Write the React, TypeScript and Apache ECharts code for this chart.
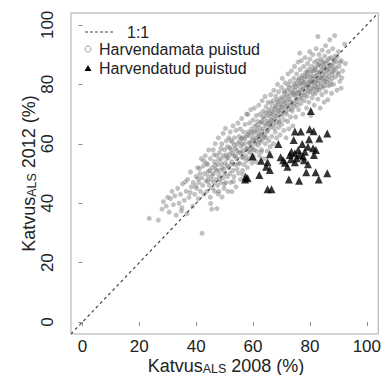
import React, { useEffect, useRef } from "react";
import * as echarts from "echarts";

const FONT = '"Liberation Sans", Arial, Helvetica, sans-serif';

const tickValues = [0, 20, 40, 60, 80, 100];
const legendLabels = ["1:1", "Harvendamata puistud", "Harvendatud puistud"];
const xTitle = ["Katvus", "ALS", " 2008 (%)"];
const yTitle = ["Katvus", "ALS", " 2012 (%)"];
const lineOneToOne = [[-4, -4], [104, 104]];

// Harvendamata puistud (unthinned stands)
const unthinned: number[][] = [
  [23.5,34.9],[26.7,34.3],[28,38],[28.5,40.5],[29.5,39],[30,42],[30.5,37],[31,41.5],[31.5,44],[32,39.5],[32.5,42.5],[33,36],[33.5,45],[34,40],[34.5,43],[35,38.5],[35.2,46.5],[35.8,41],[36.5,44],[36.8,36.5],[37,48],[37.5,42],[38,50.5],[38.3,45.5],[38.8,39],[39,47],
  [39.5,43],[40,49],[40.2,45],[40.5,52],[40.8,41.5],[41,47],[41.3,50],[41.5,44],[41.8,55],[42,48.5],[42.1,29.9],[42.3,46],[42.5,52.5],[42.8,43],[43,50],[43.2,56],[43.5,47.5],[43.8,44],[44,53],[44.2,49],[44.4,57.9],[44.6,46],[44.8,51],[45,42],[45,55],[45.3,48],[45.5,38],[45.6,52],[45.8,45],[46,58],
  [46,50],[46.2,47],[46.4,54],[46.5,44],[46.7,60],[46.9,51.5],[47,48],[47.3,38.2],[47.3,56],[47.5,46],[47.6,53],[47.8,62],[48,49.5],[48,44],[48.2,57],[48.4,51],[48.6,47],[48.8,55],[49,60],[49.1,42.1],[49.2,52],[49.4,48.5],[49.5,63.5],[49.6,56],[49.8,45],[50,50],[50,58],[50.2,53.5],[50.3,65.2],[50.4,47],[50.6,61],[50.8,55],[51,49],[51,59],[51.2,44],
  [51.4,52],[51.5,62],[51.7,56.5],[51.9,50],[52,64],[52.1,47],[52.3,58],[52.5,54],[52.6,43.9],[52.7,60.5],[52.9,51],[53,66],[53.2,56],[53.3,49],[53.5,62],[53.6,53],[53.8,58.5],[54,45.5],[54,64.5],[54.2,55],[54.4,51.5],[54.5,60],[54.7,67],[54.9,50.1],[55,57],[55.1,62.5],[55.3,53.5],[55.5,65],[55.6,48],[55.8,59],[56,55.5],[56,68.5],[56.2,62],[56.3,51],[56.5,57.5],[56.6,64],[56.8,53],[57,60],[57.2,47.8],[57.2,66.5],[57.4,56],[57.5,62.5],[57.7,70],[57.9,58.5],[58,52],
  [58.2,69.9],[58.3,64],[58.5,55],[58.6,60.5],[58.8,67],[59,57],[59,62.5],[59.2,71.5],[59.4,59],[59.5,65],[59.6,53.5],[59.8,61],[60,68],[60,56],[60.2,63.5],[60.4,58],[60.5,72],[60.6,66],[60.8,60],[61,62],[61,54],[61.2,69.5],[61.3,57.5],[61.5,64.5],[61.6,67.5],[61.8,59.5],[62,73],[62,62.5],[62.2,56],[62.3,65.5],[62.5,70],[62.6,60.5],[62.8,63],[63,67.5],[63,58],[63.2,74.5],[63.3,61.5],[63.5,65],[63.6,71],[63.8,55],[64,63],[64,68.5],[64.2,75.9],[64.3,60],[64.5,66],[64.6,72.5],[64.8,62],[65,69.5],[65,57.5],[65.2,64.5],[65.3,74],[65.5,67],[65.6,61],[65.8,70.5],[66,59],
  [66,65.5],[66.2,76.5],[66.3,68],[66.5,72],[66.6,62.5],[66.8,70],[67,66.5],[67,74.5],[67.2,60],[67.3,78],[67.5,68.5],[67.6,71.5],[67.8,64],[68,73],[68,76],[68.2,67],[68.3,62],[68.5,70],[68.6,80],[68.8,74],[69,65.5],[69,77.5],[69.2,71.5],[69.3,68],[69.5,63],[69.6,75],[69.8,72.5],[70,79],[70,66.5],[70.2,69.5],[70.3,82],[70.5,74],[70.6,71],[70.8,64.5],[71,77],[71,68],[71.2,75.5],[71.3,80.5],[71.5,72.5],[71.6,62],[71.8,70],[72,78],[72,74.5],[72.2,67.5],[72.3,83.5],[72.4,79.8],[72.5,71.5],[72.6,65],[72.8,76],[73,73],[73,81],[73.2,69],[73.3,77.5],[73.5,84.5],[73.6,74],[73.8,71],[74,79],[74,66],[74.2,76.5],[74.3,82],[74.5,72.5],
  [74.6,86],[74.8,78],[75,75],[75,69],[75.2,80.5],[75.3,83.5],[75.5,73],[75.6,77],[75.8,87.5],[76,79.5],[76,71.5],[76.2,82],[76.3,75.5],[76.4,90.5],[76.5,85],[76.6,78],[76.8,73.5],[77,80.5],[77,88],[77.2,76.5],[77.3,83],[77.5,70],[77.6,79],[77.8,86],[78,81.5],[78,74.5],[78.2,77.5],[78.3,89],[78.5,84],[78.6,80],[78.8,72],[79,82.5],[79,76],[79.2,87],[79.3,79],[79.5,85],[79.6,74],[79.8,81],[79.9,91],[80,77.5],[80,88.5],[80.2,83.5],[80.3,69.5],[80.5,80],[80.6,86],[80.8,75.5],[81,82],[81,90],[81.2,78.5],[81.3,84.5],[81.5,73],[81.6,87.5],[81.8,80.5],[82,77],[82,85],[82.2,92],[82.3,83],[82.5,79],[82.6,88],[82.8,96.1],[82.8,75],[83,81.5],[83,86.5],[83.2,90],[83.3,78],[83.5,84],
  [83.6,72],[83.8,88.5],[84,80.5],[84,86],[84.2,76.5],[84.3,91.5],[84.5,83],[84.6,79],[84.8,87],[85,84.5],[85,74],[85.2,89.5],[85.3,81],[85.5,93],[85.6,77.5],[85.8,85.5],[86,82],[86,88],[86.3,74.8],[86.4,79.5],[86.5,91],[86.7,84],[86.9,86.5],[87,95],[87.2,81],[87.4,89],[87.6,77],[87.8,83.5],[88,87],[88,92],[88.3,80],[88.5,85],[88.7,96.4],[88.8,89.5],[89,82.5],[89.3,87.5],[89.5,78],[89.8,84],[90,91],[90.2,86],[90.5,81],[91,78.7],[91,88],[91.5,84.5],[92.2,93.6],[92.5,87],
  [44.3,50.7],[45.7,49.3],[46.6,52.8],[47.2,50.9],[47.9,54.6],[48.3,48.2],[48.9,53.3],[49.7,51.4],[50.5,56.2],[50.9,52.6],[51.3,55.4],[51.8,58.7],[52.4,53.1],[52.8,56.9],[53.4,59.6],[53.9,55.8],[54.3,57.7],[54.8,53.2],[55.2,60.8],[55.7,57.1],[56.1,59.9],[56.7,55.2],[57.1,61.6],[57.6,58.3],[58.1,63.1],[58.4,57.7],[58.9,60.1],[59.3,63.9],[59.7,58.2],[60.1,61.7],[60.7,64.4],[61.1,60.9],[61.4,66.2],[61.9,63.3],[62.4,61.2],[62.7,67.1],[63.1,64.2],[63.4,69.1],[63.9,62.3],[64.1,66.8],[64.4,70.3],[64.9,64.1],[65.1,67.6],[65.4,71.2],[65.9,66.4],[66.1,69.2],[66.4,73.6],[66.9,67.8],[67.1,70.6],[67.4,65.3],[67.9,72.4],[68.1,69.3],[68.4,74.7],[68.9,71.1],[69.1,67.2],[69.4,73.3],[69.9,70.2],[70.1,75.6],[70.4,72.3],[70.9,77.8],[71.1,73.9],[71.4,70.8],[71.9,76.4],[72.1,72.9],[72.7,78.9],[72.9,74.8],[73.4,71.7],[73.9,77.2],[74.1,73.6],[74.4,80.1],[74.9,76.3],[75.1,79.2],[75.4,74.2],[75.9,81.4],[76.1,77.3],[76.7,80.3],[76.9,75.1],[77.1,82.1],[77.4,78.4],[77.9,80.6],[78.1,76.2],[78.4,82.8],[78.9,79.3],[79.1,84.1],[79.4,77.6],[79.7,80.7],[80.1,82.4],[80.4,78.6],[80.7,84.6],[80.9,80.9],[81.1,76.9],[81.4,82.7],[81.7,79.4],[81.9,85.7],[82.1,81.3],[82.4,78.2],[82.7,83.9],[82.9,80.2],[83.1,86.8],[83.4,82.3],[83.7,79.1],[83.9,84.6],[84.1,82.2],[84.4,87.7],[84.7,81.8],[84.9,85.6],[85.1,79.6],[85.4,83.4],[85.7,87.1],[85.9,80.8],[86.1,84.9],[86.6,82.6],[86.8,88.6],[87.1,85.3],[87.3,79.8],[87.7,86.2],[87.9,82.1],[88.2,84.3],[88.6,88.1],[89.1,85.6],[89.6,89.2],[90.1,83.3],[90.7,87.4],[91.2,82.2],
  [60.3,55.1],[62.9,57.3],[57.8,54.3],[56.4,49.6],[53.1,47.3],[49.9,46.4],[47.7,43.1],[55.9,61.7],[52.2,61.2],[48.7,58.4],[46.3,56.3],[43.7,53.4],[41.2,51.7],[39.8,45.8],[37.9,43.6],[36.2,47.2],[34.8,37.4],[45.1,39.9],[44.1,47.4],[42.7,54.2],[40.7,48.3]
];

// Harvendatud puistud (thinned stands)
const thinned: number[][] = [
  [80.3,71.0],[74.7,64.1],[76.8,64.1],[79.9,64.9],[81.3,64.2],[86.1,63.5],[68.9,59.9],[74.3,61.3],[79.7,61.5],[83.3,61.8],
  [77.3,59.9],[81.1,58.5],[82.1,57.9],[73.5,57.3],[74.7,56.8],[72.9,56.2],[75.9,57.9],[78.2,57.3],[77.6,55.7],[65.9,56.5],
  [59.8,55.7],[62.8,54.3],[69.7,55.5],[71.2,53.6],[72.1,52.3],[65.1,53.8],[64.6,52.3],[65.9,51.2],[74.7,53.8],[79.3,53.1],
  [78.7,50.4],[82.0,50.4],[86.1,50.1],[62.2,49.5],[57.4,48.9],[58.1,48.4],[57.2,48.0],[72.6,48.0],[76.2,47.6],[83.1,48.0],
  [65.1,44.7],[66.5,44.7],[76.4,56.2],[77.9,54.5],[75.3,55.1],[79.3,59.0],[73.3,54.8],[81.4,56.2],[70.6,54.5]
];

function textWidth(s: string, size: number): number {
  const ctx = document.createElement("canvas").getContext("2d");
  if (!ctx) return s.length * size * 0.55;
  ctx.font = `${size}px ${FONT}`;
  return ctx.measureText(s).width;
}

function titleChildren(parts: string[]) {
  const big = 18;
  const small = 12.5;
  const w0 = textWidth(parts[0], big);
  const w1 = textWidth(parts[1], small);
  const w2 = textWidth(parts[2], big);
  const x0 = -(w0 + w1 + w2) / 2;
  const mk = (text: string, x: number, y: number, size: number) => ({
    type: "text",
    x,
    y,
    silent: true,
    style: {
      text,
      fill: "#222",
      font: `${size}px ${FONT}`,
      fontSize: size,
      fontFamily: FONT,
      align: "left",
      textAlign: "left",
      verticalAlign: "middle",
      textVerticalAlign: "middle",
    },
  });
  return [
    mk(parts[0], x0, -6.5, big),
    mk(parts[1], x0 + w0, -3.5, small),
    mk(parts[2], x0 + w0 + w1, -6.5, big),
  ];
}

function legendText(text: string, x: number, y: number) {
  return {
    type: "text",
    x,
    y,
    silent: true,
    style: {
      text,
      fill: "#222",
      font: `16px ${FONT}`,
      fontSize: 16,
      fontFamily: FONT,
      align: "left",
      textAlign: "left",
      verticalAlign: "middle",
      textVerticalAlign: "middle",
    },
  };
}

export default function App() {
  const ref = useRef<HTMLDivElement>(null);
  useEffect(() => {
    if (!ref.current) return;
    const chart = echarts.init(ref.current, null, { renderer: "svg" });
    const axisCommon = {
      type: "value" as const,
      min: -4,
      max: 104,
      axisLine: { show: false },
      splitLine: { show: false },
      axisTick: {
        show: true,
        customValues: tickValues,
        length: 4,
        lineStyle: { color: "#888", width: 1 },
      },
    };
    chart.setOption({
      animation: false,
      backgroundColor: "#fff",
      grid: {
        left: 71,
        right: 3,
        top: 13,
        bottom: 41,
        show: true,
        borderColor: "#aaa",
        borderWidth: 1,
        backgroundColor: "transparent",
      },
      xAxis: {
        ...axisCommon,
        axisLabel: {
          customValues: tickValues,
          fontSize: 17,
          lineHeight: 16,
          fontFamily: FONT,
          color: "#222",
          margin: 4,
        },
      },
      yAxis: {
        ...axisCommon,
        axisLabel: {
          customValues: tickValues,
          fontSize: 17,
          fontFamily: FONT,
          color: "#222",
          margin: 15,
          rotate: 90,
        },
      },
      series: [
        {
          name: legendLabels[1],
          type: "scatter",
          data: unthinned,
          symbol: "circle",
          symbolSize: 5,
          itemStyle: { color: "rgba(100,100,100,0.5)" },
          silent: true,
          z: 2,
        },
        {
          name: legendLabels[0],
          type: "line",
          data: lineOneToOne,
          symbol: "none",
          lineStyle: { color: "#444", width: 1.2, type: [3, 3] },
          silent: true,
          z: 3,
        },
        {
          name: legendLabels[2],
          type: "scatter",
          data: thinned,
          symbol: "triangle",
          symbolSize: 8,
          itemStyle: { color: "#000" },
          silent: true,
          z: 4,
        },
      ],
      graphic: [
        {
          type: "line",
          silent: true,
          shape: { x1: 85, y1: 32, x2: 113, y2: 32 },
          style: { stroke: "#444", lineWidth: 1.2, lineDash: [3, 2] },
        },
        legendText(legendLabels[0], 127, 32),
        {
          type: "circle",
          silent: true,
          shape: { cx: 88, cy: 49, r: 3 },
          style: { fill: "none", stroke: "#999", lineWidth: 1 },
        },
        legendText(legendLabels[1], 99, 49),
        {
          type: "polygon",
          silent: true,
          shape: { points: [[84.5, 71], [91.5, 71], [88, 65]] },
          style: { fill: "#000" },
        },
        legendText(legendLabels[2], 99, 68),
        {
          type: "group",
          x: 226,
          y: 372,
          children: titleChildren(xTitle),
        },
        {
          type: "group",
          x: 35,
          y: 173.5,
          rotation: Math.PI / 2,
          children: titleChildren(yTitle),
        },
      ],
    });
    return () => chart.dispose();
  }, []);
  return <div ref={ref} style={{ width: 384, height: 375, position: "absolute", left: 0, top: 0 }} />;
}
